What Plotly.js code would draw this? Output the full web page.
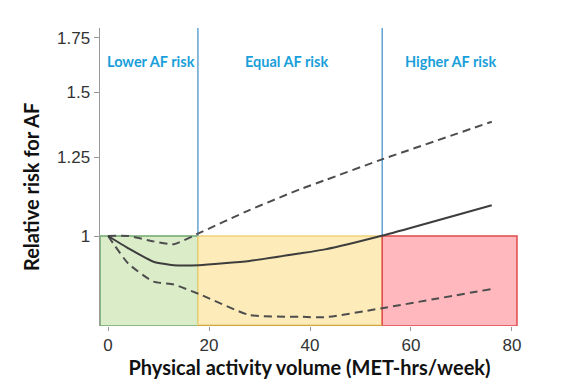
<!DOCTYPE html>
<html>
<head>
<meta charset="utf-8">
<script src="https://cdn.plot.ly/plotly-3.0.1.min.js"></script>
<style>html,body{margin:0;padding:0;background:#fff;}#chart{width:562px;height:388px;}</style>
</head>
<body>
<div id="chart"></div>
<script>
// Physical activity volume (MET-hrs/week)
var activity = [0, 4, 9, 13, 18, 28, 38, 43, 54, 76];
// Relative risk estimate and 95% CI bounds
var riskEstimate = [1.0, 0.966, 0.930, 0.921, 0.921, 0.932, 0.952, 0.963, 1.0, 1.091];
var riskUpper    = [1.0, 1.0, 0.985, 0.977, 1.008, 1.076, 1.141, 1.171, 1.240, 1.381];
var riskLower    = [1.0, 0.925, 0.879, 0.872, 0.849, 0.800, 0.796, 0.795, 0.815, 0.861];

// Risk zones
var zoneLabels = ["Lower AF risk", "Equal AF risk", "Higher AF risk"];
var zoneBounds = [-1.6, 17.8, 54.3, 81.0];
var zoneLabelX = [8.5, 35.4, 67.9];

var yTickVals = [1, 1.25, 1.5, 1.75];
var yTickText = ["1", "1.25", "1.5", "1.75"];
var xTickVals = [0, 20, 40, 60, 80];

var xRange = [-1.6, 81.4];
var yRangeLog = [-0.1104, 0.2552];
var yBottom = Math.pow(10, yRangeLog[0]);
var yTop = Math.pow(10, yRangeLog[1]);

var dashedStyle = {color: '#4d4d4d', width: 2, dash: '8px,5px', shape: 'spline', smoothing: 0.5};

var traces = [
  {x: activity, y: riskUpper, mode: 'lines', line: dashedStyle, hoverinfo: 'skip'},
  {x: activity, y: riskLower, mode: 'lines', line: dashedStyle, hoverinfo: 'skip'},
  {x: activity, y: riskEstimate, mode: 'lines', line: {color: '#3d3d3d', width: 2, shape: 'spline', smoothing: 0.5}, hoverinfo: 'skip'}
];

var fills = ['#dbecc9', '#fdebb9', '#ffb8bd'];
var borders = ['#6fa86b', '#f0d27a', '#e04a4a'];
var shapes = [];
for (var i = 0; i < 3; i++) {
  shapes.push({type: 'rect', xref: 'x', yref: 'y', layer: 'below',
    x0: zoneBounds[i], x1: zoneBounds[i + 1], y0: yBottom, y1: 1,
    fillcolor: fills[i], line: {color: borders[i], width: 1.5}});
}
// darker bottom border of the middle zone
shapes.push({type: 'line', xref: 'x', yref: 'y', layer: 'below',
  x0: zoneBounds[1], x1: zoneBounds[2], y0: yBottom, y1: yBottom,
  line: {color: '#d2a63c', width: 2.5}});
// blue zone dividers
[zoneBounds[1], zoneBounds[2]].forEach(function (b) {
  shapes.push({type: 'line', xref: 'x', yref: 'y', layer: 'below',
    x0: b, x1: b, y0: 1, y1: yTop, line: {color: '#4b96cc', width: 1.3}});
});

var annotations = zoneLabels.map(function (t, i) {
  return {text: t, x: zoneLabelX[i], xref: 'x', y: 0.886, yref: 'paper',
    showarrow: false, xanchor: 'center', yanchor: 'middle',
    font: {family: 'Lato, sans-serif', size: 14.5, color: '#1a9fda', weight: 'bold'}};
});
// y-axis title placed like the reference (slightly below plot centre)
annotations.push({text: 'Relative risk for AF', textangle: -90,
  xref: 'paper', x: -0.165, yref: 'paper', y: 0.466,
  xanchor: 'center', yanchor: 'middle', showarrow: false,
  font: {family: 'Lato, sans-serif', size: 20, color: '#111', weight: 'bold'}});

var layout = {
  width: 562, height: 388,
  margin: {l: 100, r: 43, t: 28, b: 62},
  paper_bgcolor: '#ffffff', plot_bgcolor: '#ffffff',
  showlegend: false,
  xaxis: {
    range: xRange, tickvals: xTickVals, ticks: 'outside', ticklen: 4, tickcolor: '#999',
    showline: false, showgrid: false, zeroline: false,
    tickfont: {family: 'Liberation Sans, Arial, sans-serif', size: 17, color: '#333'},
    title: {text: 'Physical activity volume (MET-hrs/week)', standoff: 4,
      font: {family: 'Lato, sans-serif', size: 20, color: '#111', weight: 'bold'}}
  },
  yaxis: {
    type: 'log', range: yRangeLog, tickvals: yTickVals, ticktext: yTickText,
    ticks: 'outside', ticklen: 5, tickcolor: '#999',
    showline: true, linecolor: '#999', linewidth: 1.5, showgrid: false, zeroline: false,
    tickfont: {family: 'Liberation Sans, Arial, sans-serif', size: 17, color: '#333'}
  },
  shapes: shapes,
  annotations: annotations
};

Plotly.newPlot('chart', traces, layout, {displayModeBar: false, staticPlot: true});
</script>
</body>
</html>
